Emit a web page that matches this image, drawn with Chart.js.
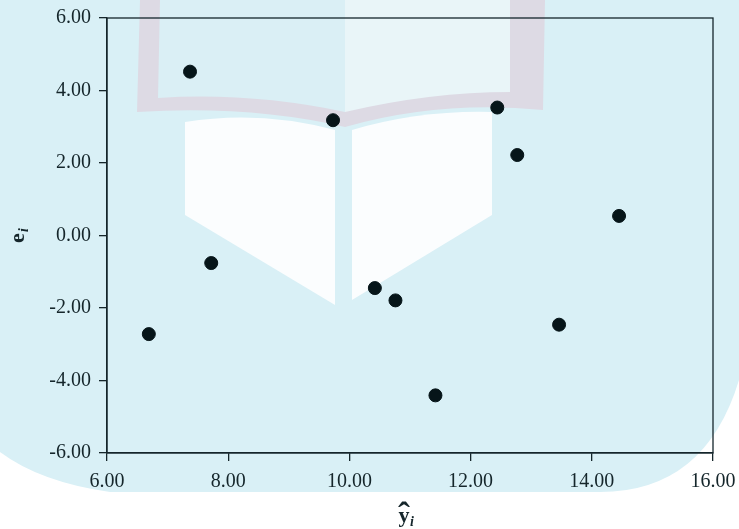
<!DOCTYPE html>
<html>
<head>
<meta charset="utf-8">
<script src="https://cdn.jsdelivr.net/npm/chart.js"></script>
<style>
  html, body { margin: 0; padding: 0; background: #fff; }
  #wrap { width: 739px; height: 529px; position: relative; }
</style>
</head>
<body>
<div id="wrap"><canvas id="chart"></canvas></div>
<script>
// fitted values (x) and residuals (y)
const fitted = [6.69, 7.37, 7.72, 9.73, 10.42, 10.76, 11.42, 12.44, 12.77, 13.46, 14.45];
const residuals = [-2.72, 4.52, -0.76, 3.18, -1.45, -1.79, -4.41, 3.53, 2.22, -2.46, 0.54];
const xTicks = [6, 8, 10, 12, 14, 16];
const yTicks = [-6, -4, -2, 0, 2, 4, 6];

const FONT = '"Liberation Serif", "DejaVu Serif", serif';
const INK = '#15262b';

// light blue page with a faded book watermark behind the plot
const backdrop = {
  id: 'backdrop',
  beforeDraw(chart) {
    const ctx = chart.ctx;
    ctx.save();
    ctx.fillStyle = '#ffffff';
    ctx.fillRect(0, 0, chart.width, chart.height);

    ctx.fillStyle = '#d9f0f6';
    ctx.beginPath();
    ctx.moveTo(0, 0);
    ctx.lineTo(739, 0);
    ctx.lineTo(739, 380);
    ctx.quadraticCurveTo(705, 492, 600, 492);
    ctx.lineTo(110, 492);
    ctx.quadraticCurveTo(40, 482, 0, 452);
    ctx.closePath();
    ctx.fill();

    // book cover outline (faint)
    ctx.fillStyle = '#dddae4';
    ctx.beginPath();
    ctx.moveTo(140, 0); ctx.lineTo(545, 0); ctx.lineTo(543, 110);
    ctx.quadraticCurveTo(440, 100, 345, 127);
    ctx.quadraticCurveTo(250, 105, 137, 112);
    ctx.closePath();
    ctx.fill();
    // inner cover, left half close to the page blue, right half lighter
    ctx.fillStyle = '#daeff5';
    ctx.beginPath();
    ctx.moveTo(160, 0); ctx.lineTo(345, 0); ctx.lineTo(345, 112);
    ctx.quadraticCurveTo(250, 92, 158, 98);
    ctx.closePath();
    ctx.fill();
    ctx.fillStyle = '#e9f5f8';
    ctx.beginPath();
    ctx.moveTo(345, 0); ctx.lineTo(510, 0); ctx.lineTo(510, 92);
    ctx.quadraticCurveTo(430, 92, 345, 112);
    ctx.closePath();
    ctx.fill();

    // pages
    ctx.fillStyle = '#fbfdfe';
    ctx.beginPath();
    ctx.moveTo(185, 122);
    ctx.quadraticCurveTo(260, 110, 335, 130);
    ctx.lineTo(335, 305);
    ctx.lineTo(185, 215);
    ctx.closePath();
    ctx.fill();
    ctx.beginPath();
    ctx.moveTo(352, 130);
    ctx.quadraticCurveTo(420, 110, 492, 112);
    ctx.lineTo(492, 215);
    ctx.lineTo(352, 300);
    ctx.closePath();
    ctx.fill();
    ctx.restore();
  },
  afterDraw(chart) {
    const { ctx, chartArea: a } = chart;
    ctx.save();
    // frame
    ctx.strokeStyle = INK;
    ctx.lineWidth = 1.3;
    ctx.strokeRect(a.left, a.top, a.right - a.left, a.bottom - a.top);

    ctx.fillStyle = INK;
    // x title: y-hat with subscript i
    const xc = 404, xb = 522;
    ctx.font = 'bold 22px ' + FONT;
    ctx.textAlign = 'center';
    ctx.textBaseline = 'alphabetic';
    ctx.fillText('y', xc, xb);
    ctx.font = 'bold 36px ' + FONT;
    ctx.fillText('\u02C6', xc, xb + 5);
    ctx.font = 'italic bold 14px ' + FONT;
    ctx.textAlign = 'left';
    ctx.fillText('i', xc + 6, xb + 4);

    // y title: e with subscript i, rotated
    ctx.translate(24, 238);
    ctx.rotate(-Math.PI / 2);
    ctx.font = 'bold 22px ' + FONT;
    ctx.textAlign = 'center';
    ctx.fillText('e', 0, 0);
    ctx.font = 'italic bold 14px ' + FONT;
    ctx.textAlign = 'left';
    ctx.fillText('i', 6, 4);
    ctx.restore();
  }
};

new Chart(document.getElementById('chart'), {
  type: 'scatter',
  data: {
    datasets: [{
      data: fitted.map((x, i) => ({ x: x, y: residuals[i] })),
      backgroundColor: '#061519',
      borderColor: '#061519',
      pointRadius: 6.5,
      pointHoverRadius: 6.5
    }]
  },
  options: {
    responsive: true,
    maintainAspectRatio: false,
    animation: false,
    layout: { padding: { top: 18, right: 26, left: 0, bottom: 0 } },
    plugins: { legend: { display: false }, tooltip: { enabled: false } },
    scales: {
      x: {
        type: 'linear',
        min: 6, max: 16,
        afterBuildTicks(scale) { scale.ticks = xTicks.map(v => ({ value: v })); },
        afterFit(scale) {
          scale.height = 76;
          scale.paddingLeft = 0;
          scale.paddingRight = 0;
        },
        grid: { display: true, drawOnChartArea: false, drawTicks: true, tickLength: 8, color: INK, lineWidth: 1.3 },
        border: { display: true, color: INK, width: 1.3 },
        ticks: {
          color: INK, padding: 9,
          font: { family: FONT, size: 20 },
          callback: v => v.toFixed(2)
        }
      },
      y: {
        type: 'linear',
        min: -6, max: 6,
        afterBuildTicks(scale) { scale.ticks = yTicks.map(v => ({ value: v })); },
        afterFit(scale) {
          scale.width = 107;
          scale.paddingTop = 0;
          scale.paddingBottom = 0;
        },
        grid: { display: true, drawOnChartArea: false, drawTicks: true, tickLength: 8, color: INK, lineWidth: 1.3 },
        border: { display: true, color: INK, width: 1.3 },
        ticks: {
          color: INK, padding: 8,
          font: { family: FONT, size: 20 },
          callback: v => v.toFixed(2)
        }
      }
    }
  },
  plugins: [backdrop]
});
</script>
</body>
</html>
